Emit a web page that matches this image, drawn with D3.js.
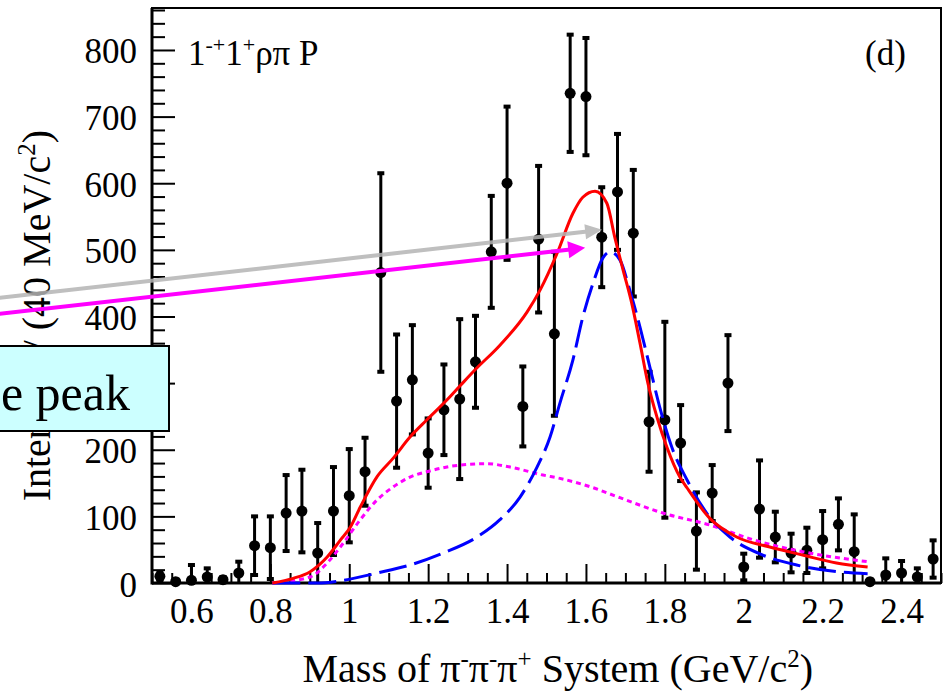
<!DOCTYPE html>
<html>
<head>
<meta charset="utf-8">
<script src="https://cdn.jsdelivr.net/npm/d3@7"></script>
<style>
  html, body { margin: 0; padding: 0; background: #fff; }
  svg { display: block; font-family: "Liberation Serif", "Times New Roman", serif; }
</style>
</head>
<body>
<svg id="chart" width="947" height="697"></svg>
<script>
// 3π invariant-mass bins (GeV/c^2), bin width 40 MeV
const massBins = [0.52, 0.56, 0.60, 0.64, 0.68, 0.72, 0.76, 0.80, 0.84, 0.88,
                  0.92, 0.96, 1.00, 1.04, 1.08, 1.12, 1.16, 1.20, 1.24, 1.28,
                  1.32, 1.36, 1.40, 1.44, 1.48, 1.52, 1.56, 1.60, 1.64, 1.68,
                  1.72, 1.76, 1.80, 1.84, 1.88, 1.92, 1.96, 2.00, 2.04, 2.08,
                  2.12, 2.16, 2.20, 2.24, 2.28, 2.32, 2.36, 2.40, 2.44, 2.48];
// partial-wave intensity per bin
const intensity = [10, 2, 4, 9, 5, 15, 56, 53, 105, 108,
                   45, 108, 131, 167, 466, 273, 305, 195, 260, 276,
                   332, 497, 600, 265, 516, 374, 735, 730, 519, 587,
                   525, 242, 245, 210, 78, 135, 300, 24, 111, 69,
                   45, 49, 65, 88, 47, 2, 12, 15, 9, 36];
// statistical uncertainty per bin
const intensityErr = [6, 3, 23, 13, 4, 17, 44, 47, 57, 62,
                      45, 66, 70, 51, 149, 100, 82, 52, 68, 120,
                      69, 84, 115, 60, 110, 123, 88, 88, 75, 87,
                      95, 75, 147, 57, 58, 42, 72, 20, 73, 38,
                      29, 34, 43, 39, 56, 3, 25, 18, 13, 28];

// total fit (red)
const fitTotalMass = [0.805, 0.858, 0.901, 0.944, 0.977, 1.003, 1.028, 1.071, 1.111, 1.154,
                      1.197, 1.248, 1.281, 1.319, 1.382, 1.451, 1.484, 1.527, 1.567, 1.592,
                      1.623, 1.653, 1.673, 1.694, 1.716, 1.737, 1.757, 1.780, 1.805, 1.838,
                      1.856, 1.914, 1.982, 2.066, 2.149, 2.235, 2.314];
const fitTotal = [0, 7, 17, 39, 64, 84, 114, 160, 187, 219,
                  245, 275, 296, 320, 357, 407, 440, 495, 555, 579,
                  588, 570, 519, 470, 420, 360, 300, 249, 204, 159,
                  143, 97, 69, 54, 42, 30, 24];

// resonance component (blue, long dash)
const fitResMass = [0.805, 0.919, 0.985, 1.071, 1.154, 1.238, 1.324, 1.382, 1.433, 1.476,
                    1.509, 1.534, 1.567, 1.592, 1.618, 1.643, 1.661, 1.686, 1.711, 1.737,
                    1.762, 1.787, 1.820, 1.856, 1.906, 1.965, 2.048, 2.134, 2.235, 2.314];
const fitRes = [0, 0, 4, 15, 27, 45, 69, 95, 129, 174,
                219, 270, 335, 399, 450, 488, 497, 485, 440, 384,
                324, 264, 200, 155, 105, 69, 42, 27, 17, 14];

// non-resonant component (magenta, dotted)
const fitBkgMass = [0.805, 0.901, 0.944, 0.985, 1.028, 1.071, 1.111, 1.154, 1.197, 1.281,
                    1.349, 1.408, 1.491, 1.534, 1.618, 1.686, 1.795, 1.914, 2.023, 2.149, 2.314];
const fitBkg = [0, 9, 30, 60, 95, 125, 144, 159, 167, 177,
                179, 174, 162, 157, 143, 128, 105, 87, 65, 47, 32];

// axis ticks
const xTickValues = [0.6, 0.8, 1.0, 1.2, 1.4, 1.6, 1.8, 2.0, 2.2, 2.4];
const xTickLabels = ["0.6", "0.8", "1", "1.2", "1.4", "1.6", "1.8", "2", "2.2", "2.4"];
const yTickValues = [0, 100, 200, 300, 400, 500, 600, 700, 800];
const yTickLabels = ["0", "100", "200", "300", "400", "500", "600", "700", "800"];

// annotation arrows, endpoints in data units [mass, intensity]
const grayArrow = [[0.115, 428], [1.641, 530]];
const magentaArrow = [[0.115, 404], [1.598, 503]];

const svg = d3.select("#chart");
const plot = { left: 152, top: 8, right: 941, bottom: 583 };

const x = d3.scaleLinear().domain([0.5, 2.5]).range([plot.left, plot.right]);
const y = d3.scaleLinear().domain([0, 863]).range([plot.bottom, plot.top]);

const FONT = 35;
const TITLE_FONT = 40;

// ---- Y axis title (drawn first; the annotation box sits over it)
const yTitle = svg.append("text")
  .attr("transform", "translate(50,130) rotate(-90)")
  .attr("text-anchor", "end")
  .attr("font-size", TITLE_FONT)
  .attr("fill", "#000");
yTitle.append("tspan").text("Intensity / (40 MeV/c");
yTitle.append("tspan").attr("dy", -15).attr("font-size", 25).text("2");
yTitle.append("tspan").attr("dy", 15).text(")");

// ---- axes with inward ticks
const xMinor = d3.range(0.5, 2.5001, 0.05).filter(v => Math.abs(v / 0.2 - Math.round(v / 0.2)) > 1e-6);
const yMinor = d3.range(0, 863, 20).filter(v => v % 100 !== 0);

svg.append("g")
  .attr("transform", `translate(0,${plot.bottom})`)
  .call(d3.axisBottom(x).tickValues(xMinor).tickSize(-10).tickSizeOuter(0).tickFormat(""))
  .call(g => g.select(".domain").remove())
  .call(g => g.selectAll("line").attr("stroke", "#000").attr("stroke-width", 2));

svg.append("g")
  .attr("transform", `translate(0,${plot.bottom})`)
  .call(d3.axisBottom(x).tickValues(xTickValues).tickSize(-19).tickSizeOuter(0)
        .tickFormat((d, i) => xTickLabels[i]))
  .call(g => g.select(".domain").remove())
  .call(g => g.selectAll("line").attr("stroke", "#000").attr("stroke-width", 2))
  .call(g => g.selectAll("text")
      .attr("y", 40).attr("dy", 0)
      .attr("font-size", FONT).attr("font-family", "Liberation Serif")
      .attr("fill", "#000"));

svg.append("g")
  .attr("transform", `translate(${plot.left},0)`)
  .call(d3.axisLeft(y).tickValues(yMinor).tickSize(-13).tickSizeOuter(0).tickFormat(""))
  .call(g => g.select(".domain").remove())
  .call(g => g.selectAll("line").attr("stroke", "#000").attr("stroke-width", 2));

svg.append("g")
  .attr("transform", `translate(${plot.left},0)`)
  .call(d3.axisLeft(y).tickValues(yTickValues).tickSize(-23).tickSizeOuter(0)
        .tickFormat((d, i) => yTickLabels[i]))
  .call(g => g.select(".domain").remove())
  .call(g => g.selectAll("line").attr("stroke", "#000").attr("stroke-width", 2))
  .call(g => g.selectAll("text")
      .attr("x", -15).attr("dy", 13)
      .attr("font-size", FONT).attr("font-family", "Liberation Serif")
      .attr("fill", "#000"));

// ---- frame
svg.append("rect")
  .attr("x", plot.left).attr("y", plot.top)
  .attr("width", plot.right - plot.left).attr("height", plot.bottom - plot.top)
  .attr("fill", "none").attr("stroke", "#000").attr("stroke-width", 2);
svg.append("line").attr("x1", plot.left).attr("x2", plot.left)
  .attr("y1", plot.top).attr("y2", plot.bottom + 1.5)
  .attr("stroke", "#000").attr("stroke-width", 3);
svg.append("line").attr("x1", plot.left).attr("x2", plot.right)
  .attr("y1", plot.bottom).attr("y2", plot.bottom)
  .attr("stroke", "#000").attr("stroke-width", 3);

// ---- data points with error bars
const pts = massBins.map((m, i) => ({ m, v: intensity[i], e: intensityErr[i] }));
const gPts = svg.append("g");
const capW = 7, capH = 4;
pts.forEach(p => {
  const lo = Math.max(0, p.v - p.e), hi = p.v + p.e;
  const cx = x(p.m);
  gPts.append("line")
    .attr("x1", cx).attr("x2", cx).attr("y1", y(lo)).attr("y2", y(hi))
    .attr("stroke", "#000").attr("stroke-width", 3);
  gPts.append("rect")
    .attr("x", cx - capW / 2).attr("y", y(hi) - capH / 2)
    .attr("width", capW).attr("height", capH).attr("fill", "#000");
  if (p.v - p.e > 0) {
    gPts.append("rect")
      .attr("x", cx - capW / 2).attr("y", y(lo) - capH / 2)
      .attr("width", capW).attr("height", capH).attr("fill", "#000");
  }
  gPts.append("circle").attr("cx", cx).attr("cy", y(p.v)).attr("r", 5.5).attr("fill", "#000");
});

// ---- fit curves
const line = d3.line().x(d => x(d[0])).y(d => y(d[1])).curve(d3.curveMonotoneX);
const zipPts = (xs, ys) => xs.map((v, i) => [v, ys[i]]);

svg.append("path").attr("d", line(zipPts(fitBkgMass, fitBkg)))
  .attr("fill", "none").attr("stroke", "#ff00ff").attr("stroke-width", 3)
  .attr("stroke-dasharray", "5,4");
svg.append("path").attr("d", line(zipPts(fitResMass, fitRes)))
  .attr("fill", "none").attr("stroke", "#0000ff").attr("stroke-width", 3)
  .attr("stroke-dasharray", "28,8");
svg.append("path").attr("d", line(zipPts(fitTotalMass, fitTotal)))
  .attr("fill", "none").attr("stroke", "#ff0000").attr("stroke-width", 3);

// ---- annotation arrows
function drawArrow(seg, color, opacity, width, headLen, headW) {
  const x0 = x(seg[0][0]), y0 = y(seg[0][1]);
  const x1 = x(seg[1][0]), y1 = y(seg[1][1]);
  const a = Math.atan2(y1 - y0, x1 - x0);
  const bx = x1 - headLen * Math.cos(a), by = y1 - headLen * Math.sin(a);
  const nx = -Math.sin(a) * headW / 2, ny = Math.cos(a) * headW / 2;
  const g = svg.append("g").attr("opacity", opacity);
  g.append("line").attr("x1", x0 - 10 * Math.cos(a)).attr("y1", y0 - 10 * Math.sin(a))
    .attr("x2", bx + 2 * Math.cos(a)).attr("y2", by + 2 * Math.sin(a))
    .attr("stroke", color).attr("stroke-width", width);
  g.append("path")
    .attr("d", `M${x1},${y1}L${bx + nx},${by + ny}L${bx - nx},${by - ny}Z`)
    .attr("fill", color);
}
drawArrow(grayArrow, "#b4b4b4", 0.85, 4, 17, 15);
drawArrow(magentaArrow, "#ff00ff", 1, 4, 17, 17);

// ---- panel labels
const lab = svg.append("text").attr("x", 188).attr("y", 65)
  .attr("font-size", FONT).attr("fill", "#000");
lab.append("tspan").text("1");
lab.append("tspan").attr("dy", -13).attr("font-size", 22).text("-+");
lab.append("tspan").attr("dy", 13).text("1");
lab.append("tspan").attr("dy", -13).attr("font-size", 22).text("+");
lab.append("tspan").attr("dy", 13).text("ρπ P");

svg.append("text").attr("x", 865).attr("y", 65)
  .attr("font-size", FONT).attr("fill", "#000").text("(d)");

// ---- x axis title
const xTitle = svg.append("text").attr("x", 813).attr("y", 682)
  .attr("text-anchor", "end").attr("font-size", TITLE_FONT).attr("fill", "#000");
xTitle.append("tspan").text("Mass of π");
xTitle.append("tspan").attr("dy", -15).attr("font-size", 25).text("-");
xTitle.append("tspan").attr("dy", 15).text("π");
xTitle.append("tspan").attr("dy", -15).attr("font-size", 25).text("-");
xTitle.append("tspan").attr("dy", 15).text("π");
xTitle.append("tspan").attr("dy", -15).attr("font-size", 25).text("+");
xTitle.append("tspan").attr("dy", 15).text(" System (GeV/c");
xTitle.append("tspan").attr("dy", -15).attr("font-size", 25).text("2");
xTitle.append("tspan").attr("dy", 15).text(")");

// ---- callout box
svg.append("rect").attr("x", -4).attr("y", 346).attr("width", 173).attr("height", 85)
  .attr("fill", "#ccffff").attr("stroke", "#000").attr("stroke-width", 2);
svg.append("text").attr("x", 130).attr("y", 410)
  .attr("text-anchor", "end").attr("font-size", 50).attr("fill", "#000")
  .text("Resonance peak");
</script>
</body>
</html>
